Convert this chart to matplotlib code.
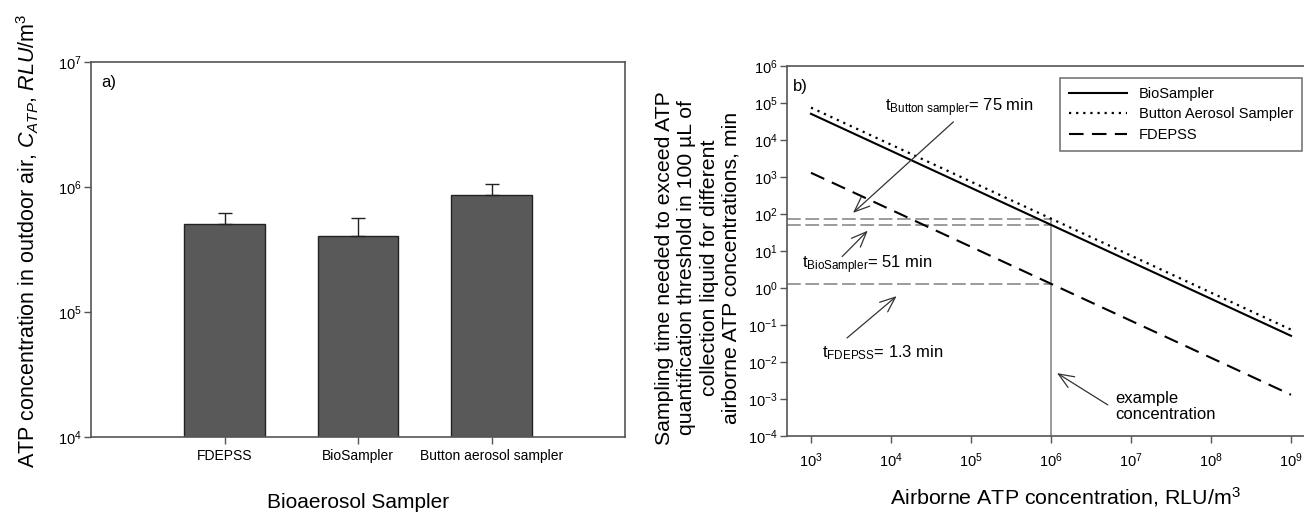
import numpy as np
import matplotlib.pyplot as plt
from matplotlib.ticker import LogLocator, NullLocator

plt.rcParams['font.family'] = ['Liberation Sans', 'DejaVu Sans']
plt.rcParams['mathtext.fontset'] = 'custom'
plt.rcParams['mathtext.rm'] = 'Liberation Sans'
plt.rcParams['mathtext.it'] = 'Liberation Sans:italic'
plt.rcParams['mathtext.bf'] = 'Liberation Sans:bold'

# panel a) data
samplers = ['FDEPSS', 'BioSampler', 'Button aerosol sampler']
atp_conc = [5.1e5, 4.05e5, 8.6e5]
atp_err = [1.1e5, 1.65e5, 2.0e5]

# panel b) data
airborne_conc = [1e3, 1e4, 1e5, 1e6, 1e7, 1e8, 1e9]
t_biosampler = [5.1e4, 5.1e3, 510, 51, 5.1, 0.51, 0.051]
t_button = [7.5e4, 7.5e3, 750, 75, 7.5, 0.75, 0.075]
t_fdepss = [1.3e3, 130, 13, 1.3, 0.13, 0.013, 0.0013]
example_conc = 1e6
t_example = [75, 51, 1.3]

W, H = 1304, 513
fig = plt.figure(figsize=(W / 100, H / 100), dpi=100)

spine_c = '#555555'

def px_axes(l, t, r, b):
    return fig.add_axes([l / W, 1 - b / H, (r - l) / W, (b - t) / H])

# ---------------- a)
ax1 = px_axes(91, 62, 625, 437)
x = np.arange(len(samplers))
ax1.bar(x, atp_conc, width=0.6, color='#595959', edgecolor='#222222', linewidth=1, zorder=2)
ax1.errorbar(x, atp_conc, yerr=[np.zeros(len(x)), atp_err], fmt='none',
             ecolor='#222222', elinewidth=1, capsize=5, capthick=1, zorder=3)
ax1.set_yscale('log')
ax1.set_ylim(1e4, 1e7)
ax1.set_xlim(-1, 3)
ax1.set_xticks(x)
ax1.set_xticklabels(samplers, fontsize=10)
ax1.yaxis.set_major_locator(LogLocator(base=10, numticks=10))
ax1.yaxis.set_minor_locator(NullLocator())
ax1.tick_params(axis='y', labelsize=10.5, pad=2)
ax1.text(10 / 534, 1 - 21 / 375, 'a)', transform=ax1.transAxes, fontsize=12,
         va='center', ha='left')

fig.text(28 / W, 1 - 241 / H,
         'ATP concentration in outdoor air, $C_{ATP}$, $RLU$/m$^3$',
         rotation=90, ha='center', va='center', fontsize=15.5)
fig.text(358 / W, 1 - 503 / H, 'Bioaerosol Sampler', ha='center', va='center', fontsize=15)

# ---------------- b)
ax2 = px_axes(787, 66, 1315, 436)
ax2.plot(airborne_conc, t_biosampler, color='black', lw=1.5, label='BioSampler')
ax2.plot(airborne_conc, t_button, color='black', lw=1.6, ls=(0, (1, 2.2)),
         label='Button Aerosol Sampler')
ax2.plot(airborne_conc, t_fdepss, color='black', lw=1.5, ls=(0, (7, 4)), label='FDEPSS')
ax2.set_xscale('log')
ax2.set_yscale('log')
ax2.set_xlim(10 ** 2.7, 10 ** 9.3)
ax2.set_ylim(1e-4, 1e6)
ax2.xaxis.set_major_locator(LogLocator(base=10, numticks=20))
ax2.yaxis.set_major_locator(LogLocator(base=10, numticks=20))
ax2.xaxis.set_minor_locator(NullLocator())
ax2.yaxis.set_minor_locator(NullLocator())
ax2.tick_params(labelsize=10.5, pad=2)
ax2.tick_params(axis='x', pad=6)

# reference lines
for tv in t_example:
    ax2.plot([10 ** 2.7, example_conc], [tv, tv], color='#808080', lw=1.1,
             ls=(0, (9, 3)), zorder=1)
ax2.plot([example_conc, example_conc], [1e-4, t_example[0]], color='#808080', lw=1.1, zorder=1)

ax2.text(6 / 528, 1 - 21 / 370, 'b)', transform=ax2.transAxes, fontsize=12, va='center')

arrow = dict(arrowstyle='->,head_length=1.1,head_width=0.45', color='#333333', lw=0.9,
             shrinkA=0, shrinkB=0)
ax2.annotate('', xy=(10 ** 3.525, 10 ** 2.03), xytext=(10 ** 4.78, 10 ** 4.49), arrowprops=arrow)
ax2.text(10 ** 3.92, 10 ** 4.86, r't$_{\mathrm{Button\ sampler}}$= 75 min', fontsize=12,
         va='center', ha='left')
ax2.annotate('', xy=(10 ** 3.71, 10 ** 1.55), xytext=(10 ** 3.39, 10 ** 0.85), arrowprops=arrow)
ax2.text(10 ** 2.89, 10 ** 0.62, r't$_{\mathrm{BioSampler}}$= 51 min', fontsize=12,
         va='center', ha='left')
ax2.annotate('', xy=(10 ** 4.07, 10 ** -0.22), xytext=(10 ** 3.45, 10 ** -1.35), arrowprops=arrow)
ax2.text(10 ** 3.14, 10 ** -1.76, r't$_{\mathrm{FDEPSS}}$= 1.3 min', fontsize=12,
         va='center', ha='left')
ax2.annotate('', xy=(10 ** 6.075, 10 ** -2.3), xytext=(10 ** 6.71, 10 ** -3.16), arrowprops=arrow)
ax2.text(10 ** 6.8, 10 ** -3.2, 'example\nconcentration', fontsize=12, va='center', ha='left',
         linespacing=1.15)

leg = ax2.legend(loc='upper right', bbox_to_anchor=(1302 / W, 1 - 78 / H),
                 bbox_transform=fig.transFigure, fontsize=10.5, frameon=True, fancybox=False,
                 handlelength=4, borderaxespad=0, borderpad=0.6, labelspacing=0.45,
                 handletextpad=0.8)
leg.get_frame().set_edgecolor(spine_c)
leg.get_frame().set_linewidth(1.2)

fig.text(698 / W, 1 - 268 / H,
         'Sampling time needed to exceed ATP\nquantification threshold in 100 \u00b5L of\n'
         'collection liquid for different\nairborne ATP concentrations, min',
         rotation=90, ha='center', va='center', fontsize=15.3, linespacing=1.22,
         multialignment='center')
fig.text(1065 / W, 1 - 497 / H, 'Airborne ATP concentration, RLU/m$^3$', ha='center',
         va='center', fontsize=15.4)

for ax in (ax1, ax2):
    for s in ax.spines.values():
        s.set_color(spine_c)
        s.set_linewidth(1.2)
    ax.tick_params(direction='out', length=5, width=1, color=spine_c)

fig.savefig('out.png', dpi=100)
